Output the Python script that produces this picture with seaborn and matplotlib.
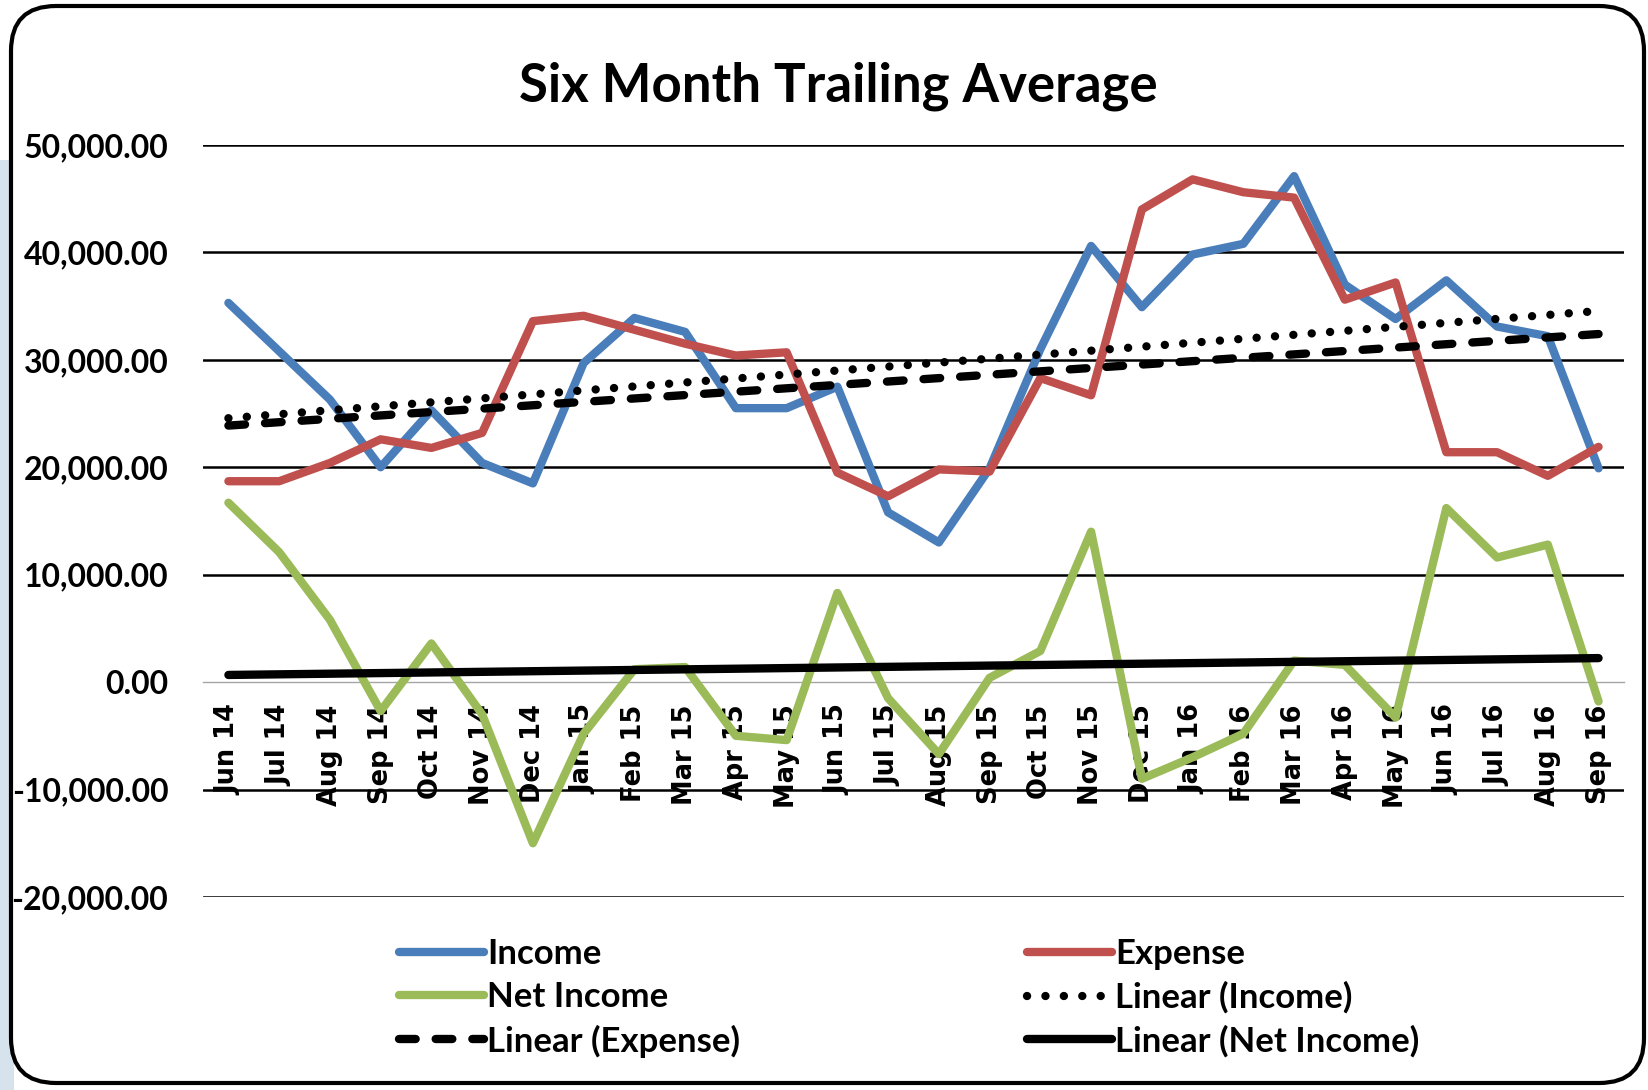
import numpy as np
import pandas as pd
import matplotlib.pyplot as plt
import seaborn as sns
from matplotlib.patches import FancyBboxPatch, Rectangle
from matplotlib.transforms import IdentityTransform

# months on the category axis
months = ["Jun 14", "Jul 14", "Aug 14", "Sep 14", "Oct 14", "Nov 14", "Dec 14",
          "Jan 15", "Feb 15", "Mar 15", "Apr 15", "May 15", "Jun 15", "Jul 15",
          "Aug 15", "Sep 15", "Oct 15", "Nov 15", "Dec 15", "Jan 16", "Feb 16",
          "Mar 16", "Apr 16", "May 16", "Jun 16", "Jul 16", "Aug 16", "Sep 16"]

# six month trailing averages
income = [35300, 30800, 26300, 20000, 25300, 20400, 18500, 29700, 33900, 32600,
          25500, 25500, 27500, 15800, 13000, 19900, 31000, 40600, 34900, 39800,
          40800, 47100, 37000, 33800, 37400, 33100, 32200, 19900]
expense = [18700, 18700, 20400, 22600, 21800, 23200, 33600, 34100, 32800, 31500,
           30400, 30700, 19500, 17300, 19800, 19600, 28300, 26700, 44000, 46800,
           45600, 45100, 35600, 37200, 21400, 21400, 19200, 21900]
net_income = [16700, 12100, 5800, -2700, 3600, -3000, -15000, -4800, 1200, 1400,
              -5000, -5400, 8300, -1500, -6700, 400, 2900, 14000, -9000, -7000,
              -4800, 2000, 1600, -3300, 16200, 11600, 12800, -1800]

y_ticks = [-20000, -10000, 0, 10000, 20000, 30000, 40000, 50000]

df = pd.DataFrame({"idx": np.arange(len(months)), "Income": income,
                   "Expense": expense, "Net Income": net_income})

sns.set_style("white")
plt.rcParams["font.family"] = ["Lato", "DejaVu Sans"]
plt.rcParams["text.color"] = "black"
plt.rcParams["xtick.color"] = "black"
plt.rcParams["ytick.color"] = "black"

fig = plt.figure(figsize=(16.48, 10.90), dpi=100)

# light blue strip to the left of the chart frame
fig.patches.append(Rectangle((0, 0), 14, 930, transform=IdentityTransform(),
                             facecolor="#d6e2ec", edgecolor="none", zorder=0))
# rounded chart frame
fig.patches.append(FancyBboxPatch((11, 7), 1633, 1077,
                                  boxstyle="round,pad=0,rounding_size=45",
                                  transform=IdentityTransform(),
                                  facecolor="white", edgecolor="black",
                                  linewidth=3, zorder=1))

ax = fig.add_axes([0.1232, 0.1771, 0.8622, 0.6899])
ax.set_facecolor("none")
ax.set_zorder(2)

lw = 6.0
sns.lineplot(data=df, x="idx", y="Income", color="#4a7ebb", linewidth=lw,
             label="Income", ax=ax, zorder=3)
sns.lineplot(data=df, x="idx", y="Expense", color="#c0504d", linewidth=lw,
             label="Expense", ax=ax, zorder=3)
sns.lineplot(data=df, x="idx", y="Net Income", color="#9bbb59", linewidth=lw,
             label="Net Income", ax=ax, zorder=3)

# linear trend lines
sns.regplot(data=df, x="idx", y="Income", scatter=False, ci=None, ax=ax,
            label="Linear (Income)",
            line_kws=dict(color="black", linewidth=lw, linestyle=(0, (0.01, 2.2)),
                          dash_capstyle="round", zorder=4))
sns.regplot(data=df, x="idx", y="Expense", scatter=False, ci=None, ax=ax,
            label="Linear (Expense)",
            line_kws=dict(color="black", linewidth=lw, linestyle=(0, (2.0, 2.4)),
                          dash_capstyle="round", zorder=4))
sns.regplot(data=df, x="idx", y="Net Income", scatter=False, ci=None, ax=ax,
            label="Linear (Net Income)",
            line_kws=dict(color="black", linewidth=lw, solid_capstyle="round",
                          zorder=4))

# spines first: moving a spine resets that axis' ticks
for side in ["top", "left", "right"]:
    ax.spines[side].set_visible(False)
ax.spines["bottom"].set_position(("data", 0))
ax.spines["bottom"].set_color("#a6a6a6")
ax.spines["bottom"].set_linewidth(1)

ax.set_xlabel("")
ax.set_ylabel("")
ax.tick_params(axis="both", length=0)
ax.tick_params(axis="x", pad=16)
ax.tick_params(axis="y", pad=25)

ax.set_xlim(-0.5, len(months) - 0.5)
ax.set_ylim(-20000, 50000)
ax.set_yticks(y_ticks)
ax.set_yticklabels([f"{v:,.2f}" for v in y_ticks], fontsize=23, fontweight="bold")
ax.set_xticks(list(df["idx"]))
ax.set_xticklabels(months, rotation=90, fontsize=18.5, fontweight="bold",
                   family="DejaVu Sans", va="top")

ax.yaxis.grid(True, color="black", lw=1.8)
ax.get_ygridlines()[y_ticks.index(0)].set_visible(False)
ax.set_axisbelow(True)

fig.text(0.5085, 0.921, "Six Month Trailing Average", ha="center", va="center",
         fontsize=38, fontweight="bold", zorder=3)

handles, labels = ax.get_legend_handles_labels()
lookup = dict(zip(labels, handles))
order = ["Income", "Net Income", "Linear (Expense)",
         "Expense", "Linear (Income)", "Linear (Net Income)"]
ax.legend([lookup[k] for k in order], order, ncol=2, frameon=False,
          loc="center left", bbox_to_anchor=(0.242, 0.0845),
          bbox_transform=fig.transFigure, prop=dict(size=25, weight="bold"),
          handlelength=2.45, handletextpad=0.1, columnspacing=8.25,
          labelspacing=0.32, borderpad=0, borderaxespad=0)

fig.savefig("out.png", dpi=100)
